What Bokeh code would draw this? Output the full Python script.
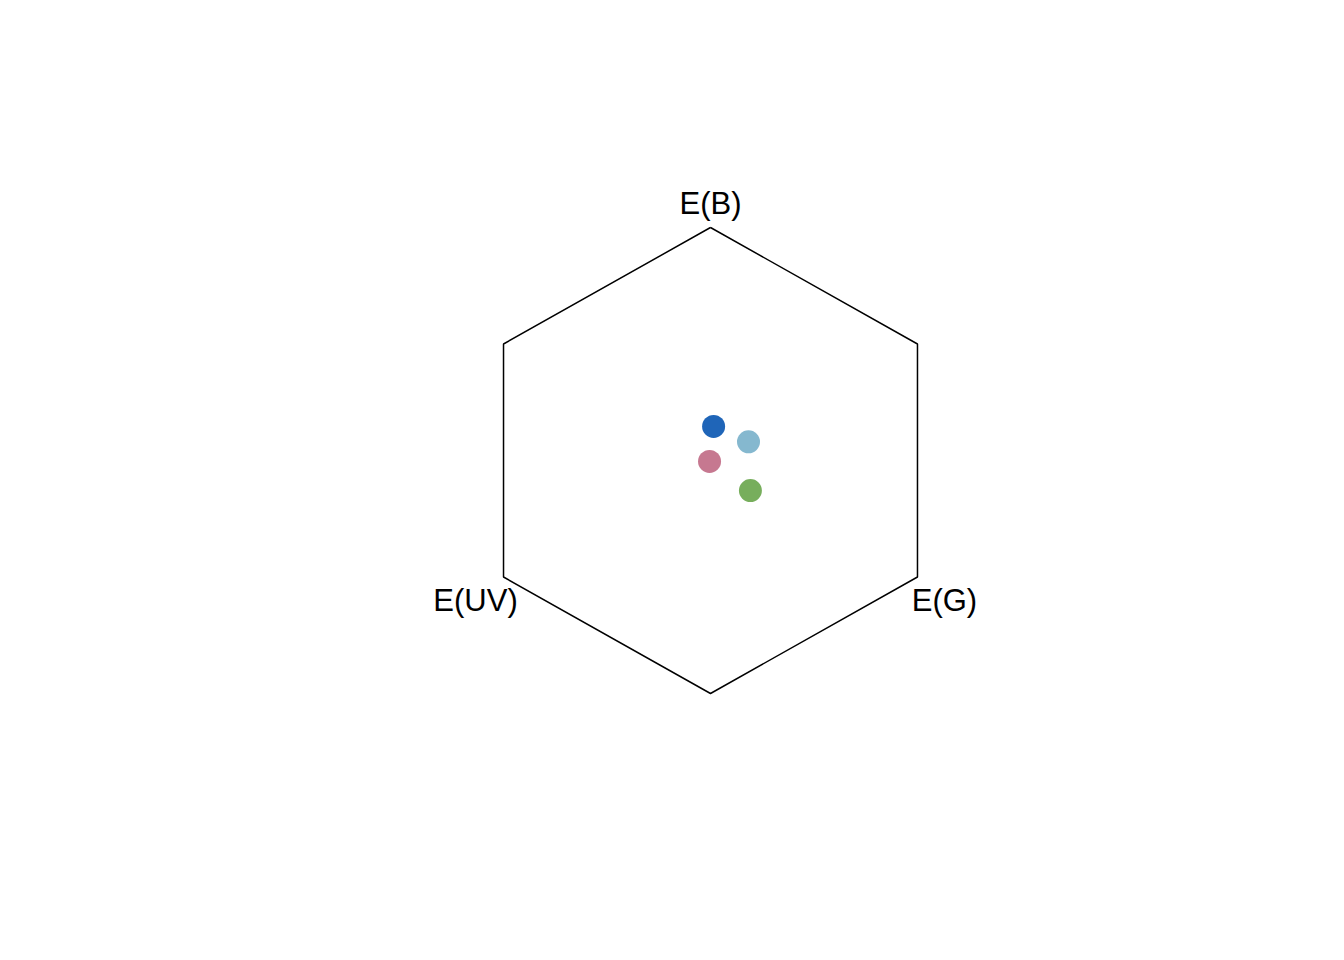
import numpy as np
from bokeh.plotting import figure
from bokeh.models import Range1d, ColumnDataSource
from bokeh.embed import file_html
from bokeh.resources import INLINE
from bokeh.core.properties import value

# Hexagon vertex labels (E(B) top, E(G) lower right, E(UV) lower left)
vertex_labels = ["E(B)", "E(G)", "E(UV)"]
vertex_angles_deg = [90, -30, 210]

# Colour-hexagon coordinates of the four samples
sample_x = [0.013, 0.159, -0.004, 0.167]
sample_y = [0.146, 0.080, -0.004, -0.129]
sample_colors = ["#1F65B8", "#85B8CF", "#C67890", "#77AE5C"]

# pixel mapping
xs_px, ys_px = 239.0, 233.0
cx, cy = 710.0, 460.0
W, H = 1328, 944

p = figure(width=W, height=H, output_backend="svg", toolbar_location=None,
           x_range=Range1d(-cx / xs_px, (W - cx) / xs_px),
           y_range=Range1d(-(H - cy) / ys_px, cy / ys_px),
           min_border=0)
p.axis.visible = False
p.grid.visible = False
p.outline_line_color = None
p.background_fill_color = "white"
p.border_fill_color = "white"

ang = np.deg2rad(np.arange(90, 450, 60))
hx = list(np.cos(ang)) + [np.cos(ang[0])]
hy = list(np.sin(ang)) + [np.sin(ang[0])]
p.line(hx, hy, line_color="black", line_width=1.5)

p.scatter(sample_x, sample_y, size=23, fill_color=sample_colors, line_color=None)

la = np.deg2rad(vertex_angles_deg)
lsrc = ColumnDataSource(dict(x=np.cos(la), y=np.sin(la), t=vertex_labels,
                             xo=[0, 27, -28], yo=[-24, 23, 23]))
p.text(x="x", y="y", text="t", source=lsrc, x_offset="xo", y_offset="yo",
       text_align="center", text_baseline="alphabetic",
       text_font=value("Liberation Sans"), text_font_size="31px", text_color="black")

open("out.html", "w").write(file_html(p, INLINE))
